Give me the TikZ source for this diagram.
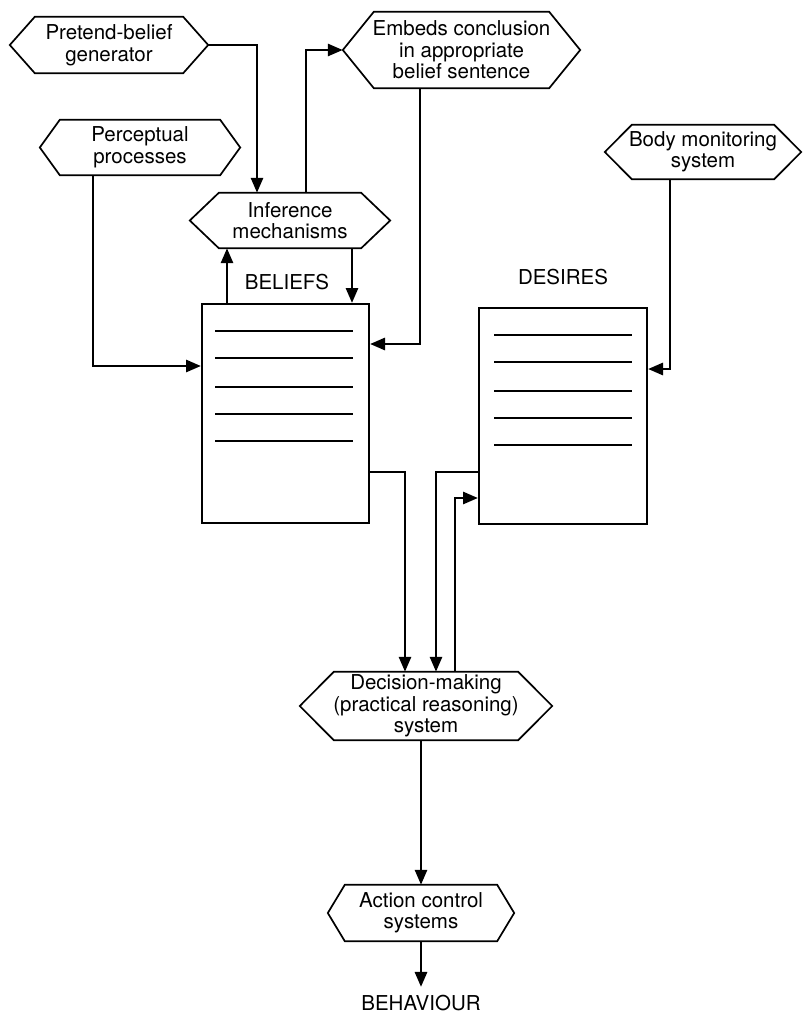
\documentclass[tikz,border=0pt]{standalone}
\usepackage{fontspec}
\setmainfont{TeX Gyre Heros}
\usetikzlibrary{arrows.meta}
\tikzset{
    lbl/.style={inner sep=0pt, align=center, font=\fontsize{20.5}{21.5}\selectfont},
    hexline/.style={draw=black, line width=1.7pt, line join=miter},
    store/.style={draw=black, line width=2pt, inner sep=0pt},
    rule/.style={line width=1.8pt},
    conn/.style={line width=2.8pt, -{Triangle[length=15pt,width=12pt]}},
    plain/.style={line width=2.8pt}
}
% hexagon round a named node, #2 = how far the points stick out
\newcommand{\hexframe}[2]{%
  \draw[hexline] (#1.west) -- ([xshift=#2]#1.north west) -- ([xshift=-#2]#1.north east)
    -- (#1.east) -- ([xshift=-#2]#1.south east) -- ([xshift=#2]#1.south west) -- cycle;}

\begin{document}
\begin{tikzpicture}[x=1pt, y=-1pt]
  \useasboundingbox (0,0) rectangle (804,1014);

  % processes (centre, width from point to point, height)
  \node[lbl, minimum width=198pt, minimum height=56pt] (pretend) at (109,45) {Pretend-belief\\generator};
  \node[lbl, minimum width=237pt, minimum height=76pt] (embeds) at (461.5,50) {Embeds conclusion\\in appropriate\\belief sentence};
  \node[lbl, minimum width=200pt, minimum height=55pt] (percept) at (140,147.5) {Perceptual\\processes};
  \node[lbl, minimum width=200pt, minimum height=55pt] (infer) at (290,220.5) {Inference\\mechanisms};
  \node[lbl, minimum width=196pt, minimum height=54pt] (body) at (703,152) {Body monitoring\\system};
  \node[lbl, minimum width=252pt, minimum height=68pt] (decision) at (426,706) {Decision-making\\(practical reasoning)\\system};
  \node[lbl, minimum width=186pt, minimum height=56pt] (action) at (421,913) {Action control\\systems};
  \hexframe{pretend}{25pt}
  \hexframe{embeds}{31pt}
  \hexframe{percept}{20pt}
  \hexframe{infer}{29pt}
  \hexframe{body}{27pt}
  \hexframe{decision}{34pt}
  \hexframe{action}{17pt}

  % the two stores
  \node[store, minimum width=167pt, minimum height=219pt] (beliefs) at (285.5,413.5) {};
  \node[store, minimum width=168pt, minimum height=216pt] (desires) at (563,416) {};
  \node[lbl] (beliefsLbl) at (287,282) {BELIEFS};
  \node[lbl] (desiresLbl) at (563,277) {DESIRES};
  \node[lbl] (behav) at (421,1003) {BEHAVIOUR};

  % entries in the stores
  \foreach \d in {28,55,84,111,138}{
    \draw[rule] ([xshift=14pt,yshift=-\d pt]beliefs.north west) -- ([xshift=-17pt,yshift=-\d pt]beliefs.north east);
    \draw[rule] ([xshift=16pt,yshift=-\d pt]desires.north west) -- ([xshift=-16pt,yshift=-\d pt]desires.north east);
  }

  % connectors
  \draw[conn] (pretend.east) -| ([xshift=-33pt]infer.north);
  \draw[conn] ([xshift=16pt]infer.north) |- (embeds.west);
  \draw[conn] ([xshift=-41.5pt]embeds.south) |- ([yshift=69.5pt]beliefs.east);
  \draw[conn] ([xshift=-47pt]percept.south) |- ([yshift=47.5pt]beliefs.west);
  \coordinate (bUp) at ([xshift=-58.5pt]beliefs.north);
  \coordinate (bDn) at ([xshift=66.5pt]beliefs.north);
  \draw[conn] (bUp) -- (bUp |- infer.south);
  \draw[conn] (infer.south -| bDn) -- (bDn);
  \draw[conn] ([xshift=-33pt]body.south) |- ([yshift=47pt]desires.east);

  \draw[conn] ([yshift=-58.5pt]beliefs.east) -| ([xshift=-21pt]decision.north);
  \draw[conn] ([yshift=-56pt]desires.west) -| ([xshift=10pt]decision.north);
  \draw[conn] ([xshift=29pt]decision.north) |- ([yshift=-82pt]desires.west);

  \draw[conn] (decision.south -| action.north) -- (action.north);
  \draw[conn] (action.south) -- ([yshift=8pt]behav.north);
\end{tikzpicture}
\end{document}
